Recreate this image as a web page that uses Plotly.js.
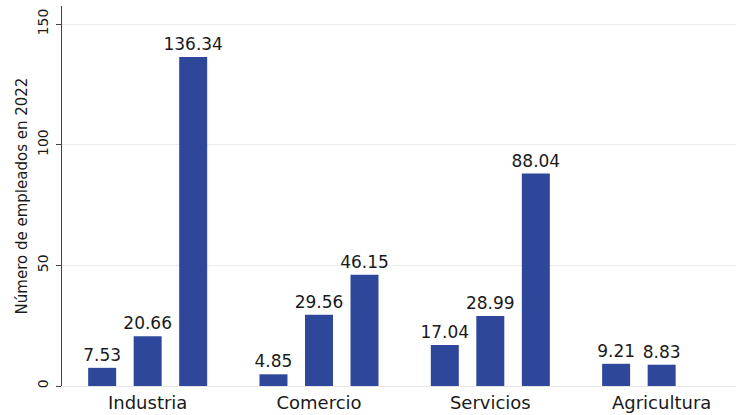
<!DOCTYPE html>
<html>
<head>
<meta charset="utf-8">
<script src="https://cdn.plot.ly/plotly-3.0.1.min.js"></script>
<style>html,body{margin:0;padding:0;background:#fff;}</style>
</head>
<body>
<div id="chart" style="width:736px;height:415px;"></div>
<script>
const categories = ["Industria", "Comercio", "Servicios", "Agricultura"];
const serie1 = [7.53, 4.85, 17.04, 9.21];
const serie2 = [20.66, 29.56, 28.99, 8.83];
const serie3 = [136.34, 46.15, 88.04, null];
const yTickValues = [0, 50, 100, 150];
const yTickLabels = ["0", "50", "100", "150"];

const barColor = "#2e479b";
const fontFamily = "DejaVu Sans, Liberation Sans, Arial, sans-serif";

function makeTrace(values, name) {
  return {
    type: "bar",
    name: name,
    x: categories,
    y: values,
    text: values.map(v => (v == null ? "" : v.toFixed(2))),
    textposition: "outside",
    constraintext: "none",
    cliponaxis: false,
    textfont: {family: fontFamily, size: 17, color: "#1a1a1a"},
    marker: {color: barColor, line: {width: 0}},
    hoverinfo: "x+y"
  };
}

const data = [
  makeTrace(serie1, "Serie 1"),
  makeTrace(serie2, "Serie 2"),
  makeTrace(serie3, "Serie 3")
];

const layout = {
  width: 736,
  height: 415,
  margin: {l: 62, r: 0, t: 6, b: 29, pad: 0},
  paper_bgcolor: "#ffffff",
  plot_bgcolor: "#ffffff",
  showlegend: false,
  barmode: "group",
  bargap: 0.203,
  bargroupgap: 0.385,
  font: {family: fontFamily, color: "#1a1a1a"},
  xaxis: {
    type: "category",
    range: [-0.5, 3.434],
    showgrid: false,
    zeroline: false,
    showline: true,
    linecolor: "#e6e6e6",
    linewidth: 1,
    ticks: "",
    tickfont: {family: fontFamily, size: 18, color: "#1a1a1a"},
    fixedrange: true
  },
  yaxis: {
    range: [0, 157.5],
    tickvals: yTickValues,
    ticktext: yTickLabels,
    tickangle: -90,
    ticks: "outside",
    ticklen: 5,
    tickcolor: "#444444",
    tickwidth: 1,
    ticklabelstandoff: 2,
    tickfont: {family: fontFamily, size: 14, color: "#1a1a1a"},
    showline: true,
    linecolor: "#444444",
    linewidth: 1,
    showgrid: true,
    gridcolor: "#ebebeb",
    gridwidth: 1,
    zeroline: false,
    title: {text: "Número de empleados en 2022", font: {family: fontFamily, size: 15, color: "#1a1a1a"}, standoff: 4},
    fixedrange: true
  }
};

Plotly.newPlot("chart", data, layout, {displayModeBar: false, staticPlot: true});
</script>
</body>
</html>
